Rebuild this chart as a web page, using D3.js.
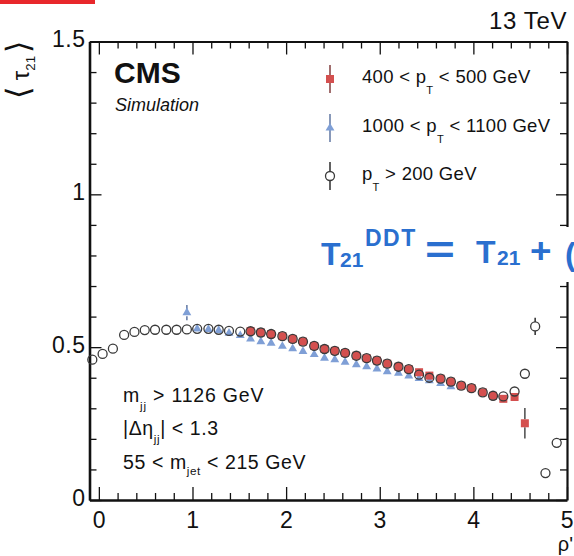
<!DOCTYPE html>
<html>
<head>
<meta charset="utf-8">
<script src="https://cdn.jsdelivr.net/npm/d3@7"></script>
<style>
  body { margin: 0; background: #fff; }
  svg { display: block; }
  text { font-family: "Liberation Sans", Arial, Helvetica, sans-serif; white-space: pre; }
</style>
</head>
<body>
<svg id="chart" width="574" height="556"></svg>
<script>
// ---- data: <tau21> versus rho' ----
// inclusive sample, pT > 200 GeV
const rhoInclusive = [-0.07, 0.04, 0.15, 0.27, 0.38, 0.49, 0.60, 0.72, 0.83, 0.94,
                      1.05, 1.17, 1.28, 1.39, 1.51, 1.62, 1.73, 1.84, 1.96, 2.07,
                      2.18, 2.30, 2.41, 2.52, 2.63, 2.75, 2.86, 2.97, 3.08, 3.20,
                      3.31, 3.42, 3.53, 3.65, 3.76, 3.87, 3.98, 4.10, 4.21, 4.32,
                      4.44, 4.55, 4.66, 4.77, 4.89];
const tauInclusive = [0.459, 0.478, 0.495, 0.540, 0.550, 0.556, 0.557, 0.557, 0.557, 0.558,
                      0.560, 0.560, 0.557, 0.553, 0.551, 0.552, 0.548, 0.543, 0.536, 0.527,
                      0.518, 0.504, 0.494, 0.488, 0.481, 0.472, 0.464, 0.456, 0.446, 0.436,
                      0.428, 0.410, 0.400, 0.397, 0.387, 0.374, 0.366, 0.352, 0.341, 0.339,
                      0.355, 0.413, 0.568, 0.088, 0.187];
const errInclusive = [0.004, 0.004, 0.004, 0.003, 0.003, 0.003, 0.003, 0.003, 0.003, 0.003,
                      0.003, 0.003, 0.003, 0.003, 0.003, 0.003, 0.003, 0.003, 0.003, 0.003,
                      0.003, 0.003, 0.003, 0.003, 0.003, 0.003, 0.003, 0.003, 0.003, 0.003,
                      0.003, 0.003, 0.003, 0.003, 0.003, 0.003, 0.003, 0.003, 0.004, 0.004,
                      0.005, 0.008, 0.028, 0.010, 0.010];

// 400 < pT < 500 GeV
const rhoPt400 = [1.62, 1.73, 1.84, 1.96, 2.07, 2.18, 2.30, 2.41, 2.52, 2.63,
                  2.75, 2.86, 2.97, 3.08, 3.20, 3.31, 3.42, 3.53, 3.65, 3.76,
                  3.87, 3.98, 4.10, 4.21, 4.32, 4.44, 4.55];
const tauPt400 = [0.553, 0.548, 0.543, 0.536, 0.527, 0.518, 0.504, 0.494, 0.488, 0.481,
                  0.472, 0.464, 0.456, 0.446, 0.436, 0.428, 0.418, 0.407, 0.397, 0.387,
                  0.374, 0.366, 0.352, 0.341, 0.331, 0.337, 0.251];
const errPt400 = [0.004, 0.004, 0.004, 0.004, 0.004, 0.004, 0.004, 0.004, 0.004, 0.004,
                  0.004, 0.004, 0.004, 0.004, 0.004, 0.004, 0.004, 0.004, 0.004, 0.004,
                  0.005, 0.005, 0.005, 0.006, 0.007, 0.010, 0.050];

// 1000 < pT < 1100 GeV
const rhoPt1000 = [0.94, 1.05, 1.17, 1.28, 1.39, 1.51, 1.62, 1.73, 1.84, 1.96,
                   2.07, 2.18, 2.30, 2.41, 2.52, 2.63, 2.75, 2.86, 2.97, 3.08,
                   3.20, 3.31, 3.42, 3.53, 3.65, 3.76];
const tauPt1000 = [0.613, 0.560, 0.558, 0.555, 0.546, 0.538, 0.527, 0.518, 0.513, 0.503,
                   0.495, 0.486, 0.476, 0.464, 0.459, 0.451, 0.443, 0.436, 0.429, 0.420,
                   0.415, 0.406, 0.398, 0.390, 0.381, 0.371];
const errPt1000 = [0.025, 0.006, 0.005, 0.005, 0.005, 0.005, 0.005, 0.005, 0.005, 0.005,
                   0.005, 0.005, 0.005, 0.005, 0.005, 0.005, 0.005, 0.005, 0.005, 0.005,
                   0.005, 0.005, 0.005, 0.006, 0.006, 0.007];

// axis ticks
const xTickValues = [0, 1, 2, 3, 4, 5];
const xTickLabels = ["0", "1", "2", "3", "4", "5"];
const yTickValues = [0, 0.5, 1, 1.5];
const yTickLabels = ["0", "0.5", "1", "1.5"];

// legend entries
const legendNames = [
  [["400 < p"], ["T", "sub"], [" < 500 GeV"]],
  [["1000 < p"], ["T", "sub"], [" < 1100 GeV"]],
  [["p"], ["T", "sub"], [" > 200 GeV"]]
];

// ---- drawing ----
const svg = d3.select("#chart");
const red = "#d4504f", blue = "#7f9fd6", dark = "#3a3a3a";

const x = d3.scaleLinear().domain([-0.1, 5.0]).range([89.5, 567]);
const y = d3.scaleLinear().domain([0, 1.5]).range([500, 41.5]);

// red banner strip in the corner
svg.append("rect").attr("x", 0).attr("y", 0).attr("width", 95).attr("height", 4).attr("fill", "#e8272b");

// multi-part text with sub/superscripts
function richText(parent, px, py, parts, size, opts = {}) {
  const t = parent.append("text")
    .attr("x", px).attr("y", py)
    .attr("font-size", size)
    .attr("fill", opts.fill || "#111");
  if (opts.weight) t.attr("font-weight", opts.weight);
  if (opts.style) t.attr("font-style", opts.style);
  if (opts.anchor) t.attr("text-anchor", opts.anchor);
  if (opts.transform) t.attr("transform", opts.transform);
  if (opts.spacing) t.attr("letter-spacing", opts.spacing);
  let shift = 0;
  parts.forEach(([str, kind, partSize]) => {
    const s = t.append("tspan").text(str);
    let target = 0;
    if (kind === "sub") { target = opts.subShift || size * 0.5; s.attr("font-size", size * (opts.subScale || 0.6)); }
    if (kind === "sup") { target = -(opts.supShift || size * 0.45); s.attr("font-size", size * (opts.subScale || 0.6)); }
    if (partSize) s.attr("font-size", partSize);
    if (target - shift !== 0) s.attr("dy", target - shift);
    shift = target;
  });
  return t;
}

// axes: ticks drawn inside the frame on all four sides
const axes = svg.append("g").attr("class", "axes");
function styleAxis(g, domainWidth) {
  g.selectAll(".tick line").attr("stroke", "#111").attr("stroke-width", 1.3);
  g.select(".domain").attr("stroke", "#111").attr("stroke-width", domainWidth);
}
function styleLabels(g) {
  g.selectAll("text").attr("font-size", 23).attr("fill", "#111")
    .attr("font-family", "Liberation Sans, Arial, sans-serif").attr("letter-spacing", 0.5);
}
const xMinor = d3.range(0.2, 5.0, 0.2).filter(v => Math.abs(v - Math.round(v)) > 1e-6);
const yMinor = d3.range(0.1, 1.5, 0.1).filter(v => Math.abs(v * 2 - Math.round(v * 2)) > 1e-6);

// bottom
axes.append("g").attr("transform", "translate(0,500)")
  .call(d3.axisBottom(x).tickValues(xMinor).tickSizeInner(-7).tickSizeOuter(0).tickFormat(""))
  .call(g => { styleAxis(g, 0); g.select(".domain").remove(); });
axes.append("g").attr("transform", "translate(0,500)")
  .call(d3.axisBottom(x).tickValues(xTickValues).tickSizeInner(-13).tickSizeOuter(0).tickPadding(12)
        .tickFormat((d, i) => xTickLabels[i]))
  .call(g => { styleAxis(g, 2.6); styleLabels(g); });
// top
axes.append("g").attr("transform", "translate(0,41.5)")
  .call(d3.axisTop(x).tickValues(xMinor).tickSizeInner(-7).tickSizeOuter(0).tickFormat(""))
  .call(g => { styleAxis(g, 0); g.select(".domain").remove(); });
axes.append("g").attr("transform", "translate(0,41.5)")
  .call(d3.axisTop(x).tickValues(xTickValues).tickSizeInner(-13).tickSizeOuter(0).tickFormat(""))
  .call(g => styleAxis(g, 2.2));
// left
axes.append("g").attr("transform", "translate(89.5,0)")
  .call(d3.axisLeft(y).tickValues(yMinor).tickSizeInner(-7).tickSizeOuter(0).tickFormat(""))
  .call(g => { styleAxis(g, 0); g.select(".domain").remove(); });
axes.append("g").attr("transform", "translate(89.5,0)")
  .call(d3.axisLeft(y).tickValues(yTickValues).tickSizeInner(-12).tickSizeOuter(0).tickPadding(4)
        .tickFormat((d, i) => yTickLabels[i]))
  .call(g => { styleAxis(g, 2.6); styleLabels(g); g.selectAll("text").attr("dy", "0.22em"); });
// right
axes.append("g").attr("transform", "translate(567,0)")
  .call(d3.axisRight(y).tickValues(yMinor).tickSizeInner(-7).tickSizeOuter(0).tickFormat(""))
  .call(g => { styleAxis(g, 0); g.select(".domain").remove(); });
axes.append("g").attr("transform", "translate(567,0)")
  .call(d3.axisRight(y).tickValues(yTickValues).tickSizeInner(-11).tickSizeOuter(0).tickFormat(""))
  .call(g => styleAxis(g, 2.2));

// data series
const plot = svg.append("g").attr("class", "data");
// vertical error bars, drawn only where they reach beyond the marker
function errorBars(xs, ys, es, color, half) {
  const segs = [];
  xs.forEach((xv, i) => {
    const cx = x(xv), cy = y(ys[i]);
    const top = y(ys[i] + es[i]), bot = y(ys[i] - es[i]);
    if (cy - top > half) segs.push([cx, top, cy - half]);
    if (bot - cy > half) segs.push([cx, cy + half, bot]);
  });
  plot.append("g").selectAll("line").data(segs).join("line")
    .attr("x1", d => d[0]).attr("x2", d => d[0])
    .attr("y1", d => d[1]).attr("y2", d => d[2])
    .attr("stroke", color).attr("stroke-width", 1.6);
}
// 1000 < pT < 1100 GeV : triangles
errorBars(rhoPt1000, tauPt1000, errPt1000, "#6a7fa8", 3.5);
plot.append("g").selectAll("path").data(rhoPt1000).join("path")
  .attr("d", d3.symbol(d3.symbolTriangle, 34))
  .attr("transform", (d, i) => `translate(${x(d)},${y(tauPt1000[i])})`)
  .attr("fill", blue);
// 400 < pT < 500 GeV : squares
errorBars(rhoPt400, tauPt400, errPt400, "#555", 4);
plot.append("g").selectAll("rect").data(rhoPt400).join("rect")
  .attr("x", (d) => x(d) - 4).attr("y", (d, i) => y(tauPt400[i]) - 4)
  .attr("width", 8).attr("height", 8)
  .attr("fill", red);
// pT > 200 GeV : open circles
errorBars(rhoInclusive, tauInclusive, errInclusive, dark, 4.5);
plot.append("g").selectAll("circle").data(rhoInclusive).join("circle")
  .attr("cx", (d) => x(d)).attr("cy", (d, i) => y(tauInclusive[i]))
  .attr("r", 4.5)
  .attr("fill", "none").attr("stroke", dark).attr("stroke-width", 1.3);

// legend
const legend = svg.append("g").attr("class", "legend");
const legendRows = [79, 128, 176];
legendRows.forEach((ly, i) => {
  const barColor = i === 0 ? "#8a4a4a" : i === 1 ? "#6a7fa8" : dark;
  legend.append("line").attr("x1", 330).attr("x2", 330).attr("y1", ly - 14).attr("y2", ly + 14)
    .attr("stroke", barColor).attr("stroke-width", 1.6);
  if (i === 0) legend.append("rect").attr("x", 326).attr("y", ly - 4).attr("width", 8).attr("height", 8).attr("fill", red);
  if (i === 1) legend.append("path").attr("d", d3.symbol(d3.symbolTriangle, 34)).attr("transform", `translate(330,${ly})`).attr("fill", blue);
  if (i === 2) legend.append("circle").attr("cx", 330).attr("cy", ly).attr("r", 4.5).attr("fill", "#fff").attr("stroke", dark).attr("stroke-width", 1.3);
  richText(legend, 362, ly + 4, legendNames[i], 18.5, { subShift: 11, subScale: 0.6, spacing: 0.3 });
});

// labels
const labels = svg.append("g").attr("class", "labels");
richText(labels, 114, 83, [["CMS"]], 30, { weight: "bold" });
richText(labels, 115, 111, [["Simulation"]], 18, { style: "italic" });
richText(labels, 567, 29, [["13 TeV"]], 24, { anchor: "end", spacing: 0.6 });
richText(labels, 123, 402, [["m"], ["jj", "sub"], [" > 1126 GeV"]], 19.5, { subShift: 8, subScale: 0.6, spacing: 0.8 });
richText(labels, 123, 435, [["|Δη"], ["jj", "sub"], ["| < 1.3"]], 19.5, { subShift: 8, subScale: 0.6, spacing: 0.6 });
richText(labels, 123, 469, [["55 < m"], ["jet", "sub"], [" < 215 GeV"]], 19.5, { subShift: 6, subScale: 0.6, spacing: 0.6 });
richText(labels, 573, 551, [["ρ'"]], 20, { anchor: "end" });
// y-axis title
richText(labels, 0, 0, [["⟨", null, 32], [" τ", null, 24], ["21", "sub"], [" ", null, 10], ["⟩", null, 32]], 22,
  { anchor: "middle", transform: "translate(29,70) rotate(-90)", subShift: 6, subScale: 0.6 });

// formula overlay
const formula = svg.append("g").attr("class", "formula");
formula.append("rect").attr("x", 310).attr("y", 227).attr("width", 264).attr("height", 55).attr("fill", "#fff");
const fblue = "#2a6fcf";
richText(formula, 321, 265, [["T"]], 32, { weight: "bold", fill: fblue });
richText(formula, 340, 267, [["21"]], 21, { weight: "bold", fill: fblue });
richText(formula, 365, 246, [["DDT"]], 23, { weight: "bold", fill: fblue, spacing: 1.5 });
richText(formula, 0, 0, [["="]], 32, { weight: "bold", fill: fblue, transform: "translate(425,263) scale(1.6,1.2)" });
richText(formula, 476, 263, [["T"]], 32, { weight: "bold", fill: fblue });
richText(formula, 497, 265, [["21"]], 21, { weight: "bold", fill: fblue });
richText(formula, 0, 0, [["+"]], 32, { weight: "bold", fill: fblue, transform: "translate(530,263) scale(1.15,1.1)" });
richText(formula, 565, 265, [["("]], 32, { weight: "bold", fill: fblue });
</script>
</body>
</html>
